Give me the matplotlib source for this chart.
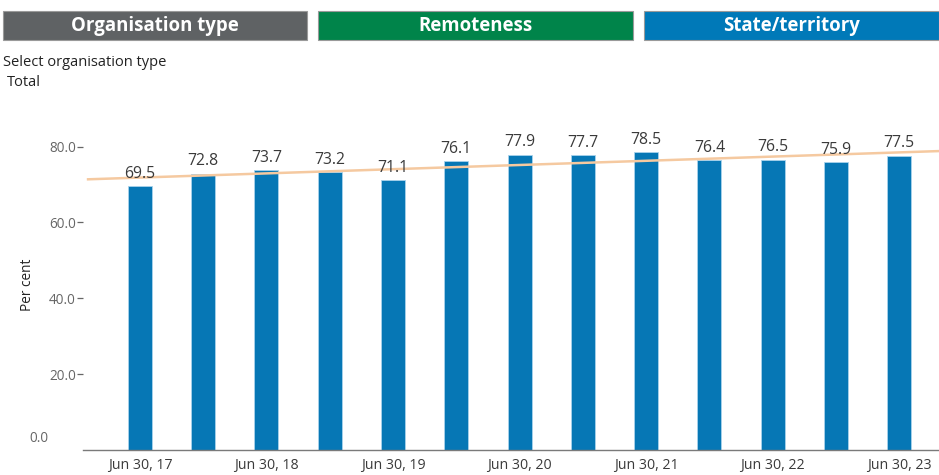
import numpy as np
import matplotlib
matplotlib.use("Agg")
import matplotlib.pyplot as plt
from matplotlib.patches import Rectangle

plt.rcParams['font.family'] = ['Open Sans', 'DejaVu Sans']

periods = ["Jun 30, 17", "Dec 31, 17", "Jun 30, 18", "Dec 31, 18", "Jun 30, 19",
           "Dec 31, 19", "Jun 30, 20", "Dec 31, 20", "Jun 30, 21", "Dec 31, 21",
           "Jun 30, 22", "Dec 31, 22", "Jun 30, 23"]
values = [69.5, 72.8, 73.7, 73.2, 71.1, 76.1, 77.9, 77.7, 78.5, 76.4, 76.5, 75.9, 77.5]
buttons = ["Organisation type", "Remoteness", "State/territory"]
button_colors = ["#5f6264", "#00844a", "#0079b8"]

bar_color = "#0677b5"
trend_color = "#f5c9a0"
text_dark = "#3a3a3a"
tick_gray = "#666666"

fig = plt.figure(figsize=(9.39, 4.75), dpi=100)

# filter buttons across the top
W, H = 939, 475
btn_boxes = [(3, 307), (318, 633), (644, 939)]
for (x0, x1), label, col in zip(btn_boxes, buttons, button_colors):
    fig.patches.append(Rectangle((x0 / W, 1 - 40 / H), (x1 - x0) / W, 29 / H,
                                 transform=fig.transFigure, facecolor=col,
                                 edgecolor="#9a9a9a", linewidth=0.8))
    fig.text((x0 + x1) / 2 / W, 1 - 26 / H, label, color="white", fontsize=13.4,
             fontweight="bold", ha="center", va="center")

fig.text(3 / W, 1 - 62 / H, "Select organisation type", fontsize=10.5,
         color="#222222", va="center")
fig.text(7 / W, 1 - 82 / H, "Total", fontsize=10.5, color="#222222", va="center")

ax = fig.add_axes([83 / W, 25 / H, 1 - 83 / W, 330 / H])
x = np.arange(len(values))
ax.bar(x, values, width=0.38, color=bar_color, edgecolor="#a9d3ec",
       linewidth=0.6, zorder=2)

for xi, v in zip(x, values):
    ax.text(xi, v + 1.2, f"{v:.1f}", ha="center", va="bottom", fontsize=11.3,
            color=text_dark, zorder=4)

# linear trend line
xmin, xmax = -0.9, 12.63
slope, intercept = np.polyfit(x, values, 1)
tx = np.array([xmin + 0.08, xmax])
ax.plot(tx, slope * tx + intercept, color=trend_color, linewidth=1.8, zorder=3)

ax.set_xlim(xmin, xmax)
ax.set_ylim(0, 87)

ax.set_xticks(x[::2])
ax.set_xticklabels(periods[::2], fontsize=10.2, color=text_dark)
ax.tick_params(axis="x", length=0, pad=6)

ax.set_yticks([20, 40, 60, 80])
ax.set_yticklabels(["20.0", "40.0", "60.0", "80.0"], fontsize=9.8, color=tick_gray)
ax.tick_params(axis="y", length=4, width=0.9, color=tick_gray, pad=1)
ax.text(-0.04, 3, "0.0", transform=ax.get_yaxis_transform(), ha="right",
        va="center", fontsize=9.8, color=tick_gray)

ax.set_ylabel("Per cent", fontsize=9.8, color="#222222", labelpad=10)

for side in ["top", "right", "left"]:
    ax.spines[side].set_visible(False)
ax.spines["bottom"].set_color("#7a7a7a")
ax.spines["bottom"].set_linewidth(1.0)

fig.savefig("out.png", dpi=100)
